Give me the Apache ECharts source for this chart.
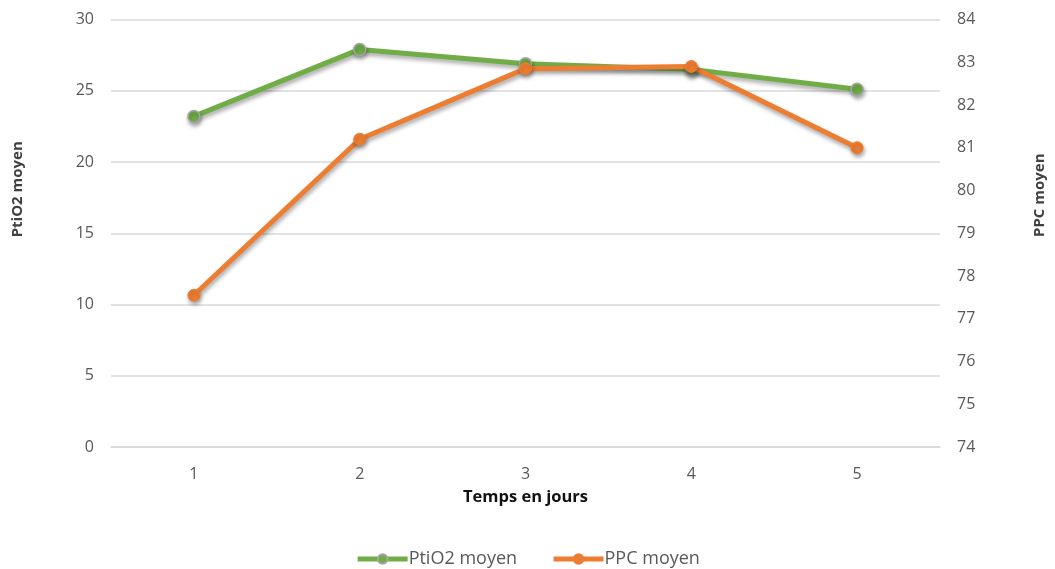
<!DOCTYPE html>
<html>
<head>
<meta charset="utf-8">
<script src="https://cdn.jsdelivr.net/npm/echarts@6/dist/echarts.min.js"></script>
<style>
  html, body { margin: 0; padding: 0; background: #fff; }
  #chart { width: 1055px; height: 569px; }
</style>
</head>
<body>
<div id="chart"></div>
<script>
// Days of measurement
const days = ['1', '2', '3', '4', '5'];
// Mean brain tissue oxygen pressure (left axis)
const ptio2 = [23.2, 27.9, 26.9, 26.5, 25.1];
// Mean cerebral perfusion pressure (right axis)
const ppc = [77.55, 81.2, 82.85, 82.9, 81.0];

const FONT = '"Open Sans", "Noto Sans", sans-serif';
const green = '#70AD47';
const orange = '#ED7D31';
const shadow = { shadowColor: 'rgba(0,0,0,0.35)', shadowBlur: 4, shadowOffsetY: 3, shadowOffsetX: 1 };

const chart = echarts.init(document.getElementById('chart'));
chart.setOption({
  animation: false,
  textStyle: { fontFamily: FONT },
  grid: { left: 111, right: 110, top: 19.5, bottom: 122, containLabel: false },
  legend: {
    bottom: -4,
    left: 'center',
    itemWidth: 50,
    itemHeight: 12,
    itemGap: 34,
    lineStyle: { width: 5 },
    textStyle: { fontFamily: FONT, fontSize: 18, color: '#595959', padding: [0, 0, 0, -4] },
    data: ['PtiO2 moyen', 'PPC moyen']
  },
  xAxis: {
    type: 'category',
    data: days,
    boundaryGap: true,
    axisLine: { lineStyle: { color: '#d9d9d9', width: 1.5 } },
    axisTick: { show: false },
    axisLabel: { color: '#595959', fontSize: 16, margin: 19, fontFamily: FONT },
    name: 'Temps en jours',
    nameLocation: 'middle',
    nameGap: 42,
    nameTextStyle: { fontWeight: 'bold', fontSize: 16.5, color: '#111', fontFamily: FONT }
  },
  yAxis: [
    {
      type: 'value',
      min: 0, max: 30, interval: 5,
      axisLine: { show: false },
      axisTick: { show: false },
      splitLine: { lineStyle: { color: '#d9d9d9', width: 1.5 } },
      axisLabel: { color: '#595959', fontSize: 16, margin: 17, fontFamily: FONT },
      name: 'PtiO2 moyen',
      nameLocation: 'middle',
      nameRotate: 90,
      nameGap: 86,
      nameTextStyle: { fontWeight: 'bold', fontSize: 15, color: '#404040', fontFamily: FONT, padding: [0, 0, 0, 88] }
    },
    {
      type: 'value',
      min: 74, max: 84, interval: 1,
      position: 'right',
      axisLine: { show: false },
      axisTick: { show: false },
      splitLine: { show: false },
      axisLabel: { color: '#595959', fontSize: 16, margin: 17, fontFamily: FONT },
      name: 'PPC moyen',
      nameLocation: 'middle',
      nameRotate: 90,
      nameGap: 92,
      nameTextStyle: { fontWeight: 'bold', fontSize: 15, color: '#404040', fontFamily: FONT, padding: [0, 0, 0, 76] }
    }
  ],
  series: [
    {
      name: 'PtiO2 moyen',
      type: 'line',
      yAxisIndex: 0,
      data: ptio2,
      symbol: 'circle',
      symbolSize: 12,
      color: green,
      lineStyle: Object.assign({ color: green, width: 5 }, shadow),
      itemStyle: Object.assign({ color: green, borderColor: '#a5a5a5', borderWidth: 1.5 }, shadow),
      z: 2
    },
    {
      name: 'PPC moyen',
      type: 'line',
      yAxisIndex: 1,
      data: ppc,
      symbol: 'circle',
      symbolSize: 12,
      color: orange,
      lineStyle: Object.assign({ color: orange, width: 5 }, shadow),
      itemStyle: Object.assign({ color: orange, borderColor: orange, borderWidth: 1 }, shadow),
      z: 3
    }
  ]
});
</script>
</body>
</html>
